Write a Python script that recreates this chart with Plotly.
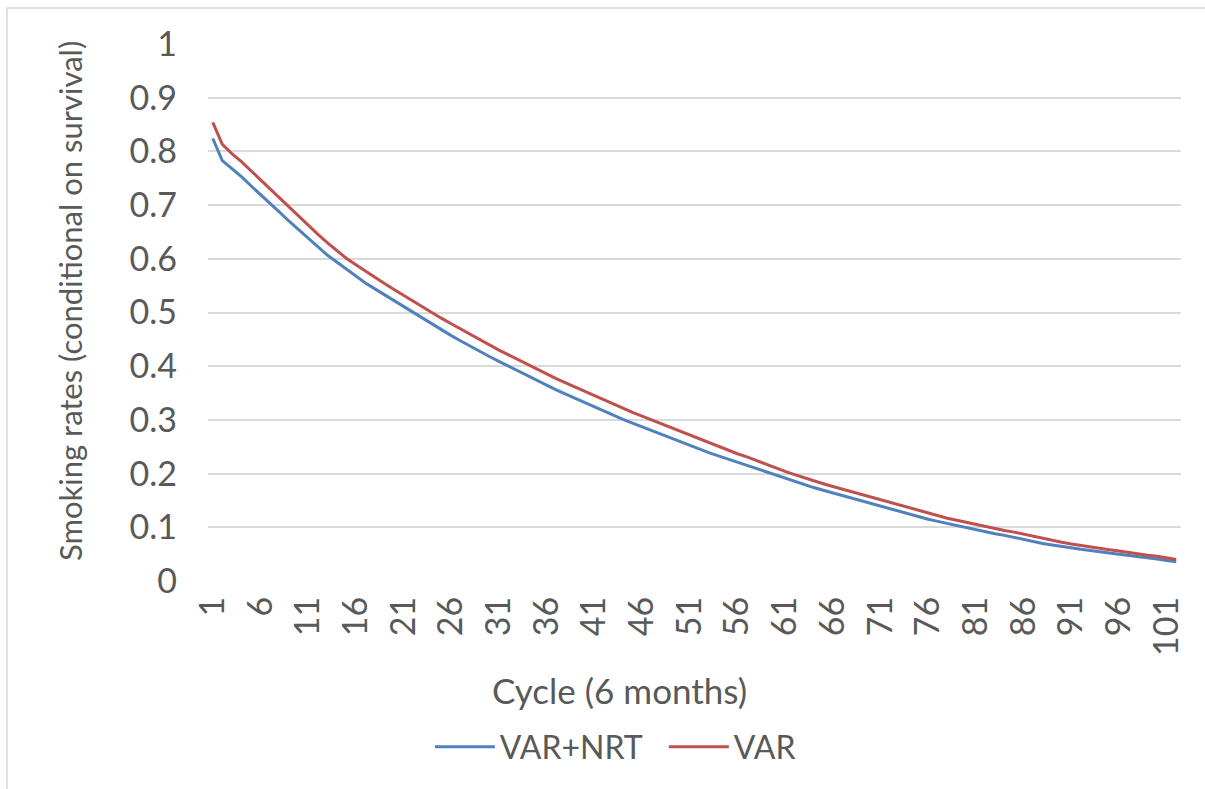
import plotly.graph_objects as go

# Six-month cycles of the simulation
cycles = list(range(1, 103))

# Smoking prevalence among survivors, per cycle
var_nrt = [0.824, 0.783, 0.768, 0.753, 0.736, 0.720, 0.703, 0.687, 0.670, 0.654,
           0.638, 0.622, 0.607, 0.594, 0.581, 0.567, 0.555, 0.544, 0.533, 0.523,
           0.512, 0.501, 0.490, 0.478, 0.467, 0.457, 0.447, 0.437, 0.427, 0.418,
           0.409, 0.400, 0.391, 0.382, 0.373, 0.364, 0.356, 0.348, 0.340, 0.332,
           0.324, 0.316, 0.308, 0.301, 0.294, 0.287, 0.280, 0.273, 0.266, 0.259,
           0.252, 0.245, 0.239, 0.233, 0.227, 0.221, 0.215, 0.209, 0.203, 0.197,
           0.191, 0.185, 0.179, 0.174, 0.169, 0.164, 0.159, 0.154, 0.149, 0.144,
           0.139, 0.134, 0.129, 0.124, 0.120, 0.115, 0.111, 0.107, 0.103, 0.099,
           0.096, 0.092, 0.088, 0.085, 0.081, 0.077, 0.073, 0.070, 0.067, 0.064,
           0.062, 0.059, 0.057, 0.054, 0.052, 0.050, 0.048, 0.045, 0.043, 0.041,
           0.038, 0.036]

var_only = [0.854, 0.813, 0.796, 0.781, 0.764, 0.747, 0.730, 0.713, 0.696, 0.679,
            0.663, 0.646, 0.630, 0.615, 0.601, 0.589, 0.577, 0.565, 0.554, 0.543,
            0.532, 0.521, 0.510, 0.500, 0.489, 0.479, 0.469, 0.459, 0.449, 0.439,
            0.430, 0.421, 0.412, 0.403, 0.394, 0.386, 0.377, 0.369, 0.361, 0.353,
            0.345, 0.337, 0.329, 0.322, 0.314, 0.307, 0.300, 0.292, 0.285, 0.278,
            0.271, 0.264, 0.257, 0.251, 0.244, 0.237, 0.231, 0.224, 0.217, 0.211,
            0.204, 0.198, 0.192, 0.187, 0.181, 0.176, 0.171, 0.166, 0.161, 0.156,
            0.151, 0.146, 0.141, 0.136, 0.131, 0.126, 0.121, 0.117, 0.113, 0.109,
            0.105, 0.102, 0.098, 0.094, 0.091, 0.087, 0.084, 0.079, 0.075, 0.072,
            0.069, 0.066, 0.064, 0.061, 0.058, 0.056, 0.053, 0.051, 0.048, 0.046,
            0.043, 0.040]

x_ticks = list(range(1, 103, 5))
y_ticks = [0, 0.1, 0.2, 0.3, 0.4, 0.5, 0.6, 0.7, 0.8, 0.9, 1]
y_labels = ["0", "0.1", "0.2", "0.3", "0.4", "0.5", "0.6", "0.7", "0.8", "0.9", "1"]

x_title = "Cycle (6 months)"
y_title = "Smoking rates (conditional on survival)"

FONT = "Lato, 'Open Sans', sans-serif"
TEXT = "#595959"
GRID = "#D9D9D9"

fig = go.Figure()
fig.add_trace(go.Scatter(x=cycles, y=var_nrt, mode="lines", name="VAR+NRT",
                         line=dict(color="#4F81BD", width=3)))
fig.add_trace(go.Scatter(x=cycles, y=var_only, mode="lines", name="VAR",
                         line=dict(color="#C0504D", width=3)))

fig.update_layout(
    width=1205, height=789,
    margin=dict(l=208, r=24, t=44, b=208),
    paper_bgcolor="white", plot_bgcolor="white",
    font=dict(family=FONT, color=TEXT, size=32),
    showlegend=True,
    legend=dict(orientation="h", x=0.228, xanchor="left", y=-0.309, yanchor="middle",
                font=dict(size=32, color=TEXT), itemwidth=60,
                entrywidth=159, entrywidthmode="pixels",
                bgcolor="rgba(0,0,0,0)", traceorder="normal"),
    xaxis=dict(range=[0.5, 102.5], tickmode="array", tickvals=x_ticks,
               ticktext=[str(v) for v in x_ticks], tickangle=-90,
               tickfont=dict(size=34),
               showgrid=False, zeroline=False, showline=False,
               ticks="", ticklabelstandoff=8),
    yaxis=dict(range=[0, 1], tickmode="array", tickvals=y_ticks, ticktext=y_labels,
               tickfont=dict(size=34),
               showgrid=True, gridcolor=GRID, gridwidth=1.5, zeroline=False,
               showline=False, ticks="", ticklabelstandoff=30),
    annotations=[
        dict(text=x_title, xref="paper", yref="paper",
             x=(619 - 208) / 973, y=(581 - 690) / 537,
             xanchor="center", yanchor="middle", showarrow=False,
             font=dict(size=35, color=TEXT)),
        dict(text=y_title, xref="paper", yref="paper",
             x=(70 - 208) / 973, y=(581 - 301) / 537, textangle=-90,
             xanchor="center", yanchor="middle", showarrow=False,
             font=dict(size=31, color=TEXT)),
    ],
    shapes=[dict(type="rect", xref="paper", yref="paper",
                 x0=-0.2066, x1=1.2, y0=-0.6, y1=1.067,
                 line=dict(color="#D9D9D9", width=1.5), fillcolor="rgba(0,0,0,0)",
                 layer="below")],
)

fig.write_html("out.html")
